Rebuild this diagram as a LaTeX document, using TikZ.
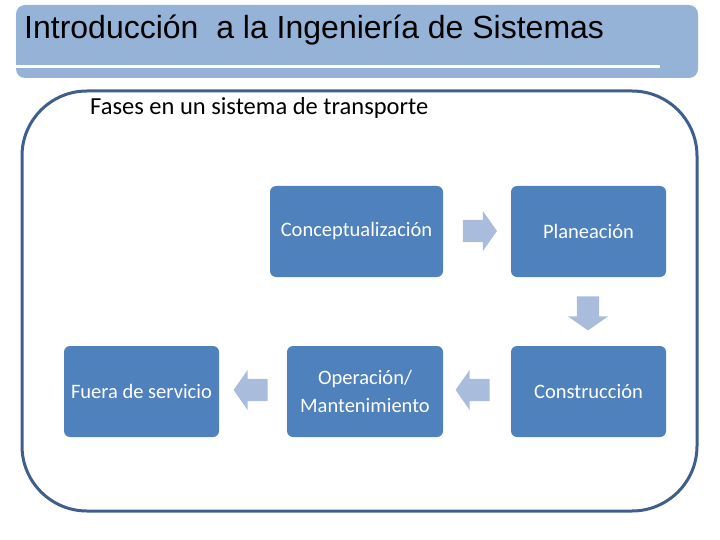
\documentclass[tikz,border=0pt]{standalone}
\usepackage{fontspec}
\setmainfont{Carlito}
\newfontfamily\headfont{Liberation Sans}
\usetikzlibrary{shapes.arrows}
\definecolor{faseblue}{HTML}{4F81BD}
\definecolor{flecha}{HTML}{A9BCDC}
\definecolor{marco}{HTML}{3F5E8E}
\definecolor{cabeza}{HTML}{95B3D7}
\tikzset{
  fase/.style={fill=faseblue, rounded corners=6pt, minimum width=155pt, minimum height=91pt,
    text=white, align=center, font=\fontsize{20.5}{28}\selectfont, inner sep=0pt},
  flechabox/.style={single arrow, fill=flecha, minimum height=34pt,
    single arrow head extend=9pt, single arrow tip angle=110, inner xsep=0pt, inner ysep=11pt}
}

\begin{document}
\begin{tikzpicture}[x=1pt, y=-1pt]
\useasboundingbox (0,0) rectangle (720,540);
% encabezado
\node(cabecera)[fill=cabeza, rounded corners=9pt, minimum width=682pt, minimum height=73pt,
  inner sep=0pt] at (357,41.5) {};
\draw[white, line width=3pt] (16,67) -- (660,67);
\node(titulo)[anchor=west, font=\headfont\fontsize{32}{36}\selectfont, inner sep=0pt] at (24,30)
  {Introducción\ \ a la Ingeniería de Sistemas};
% marco
\draw[marco, line width=3pt, rounded corners=65pt] (22,91) rectangle (697,511);
\node(fases)[anchor=west, font=\fontsize{24.5}{28}\selectfont, inner sep=0pt] at (90,108)
  {Fases en un sistema de transporte};
%
\node(concep)[fase, minimum width=173pt] at (356.5,231.5) {Conceptualización};
\node(plan)[fase] at (588.5,231.5) {Planeación};
\node(constr)[fase] at (588.5,391.5) {Construcción};
\node(oper)[fase, minimum width=156pt] at (365,391.5) {Operación/\\Mantenimiento};
\node(fuera)[fase] at (141.5,391.5) {Fuera de servicio};
%
\node(f1)[flechabox] at (476,231) {};
\node(f2)[flechabox, rotate=-90] at (588,309.5) {};
\node(f3)[flechabox, rotate=180] at (476.5,390) {};
\node(f4)[flechabox, rotate=180] at (254.5,390) {};
\end{tikzpicture}
\end{document}
